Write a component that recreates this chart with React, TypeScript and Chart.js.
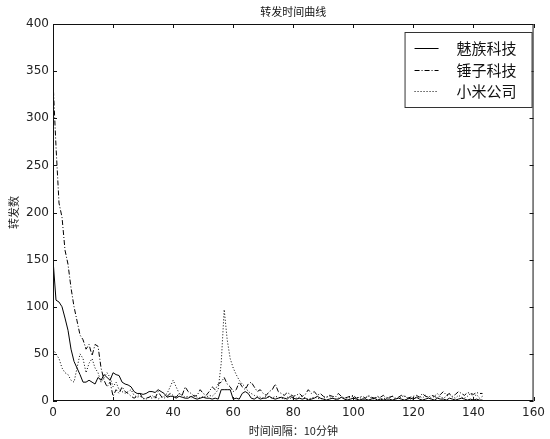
import React, { useEffect, useRef } from "react";
import { Chart, registerables } from "chart.js";

Chart.register(...registerables);

const chartTitle = "转发时间曲线";
const xAxisTitle = "时间间隔：10分钟";
const yAxisTitle = "转发数";
const seriesNames = ["魅族科技", "锤子科技", "小米公司"];
const xTicks = [0, 20, 40, 60, 80, 100, 120, 140, 160];
const yTicks = [0, 50, 100, 150, 200, 250, 300, 350, 400];

const meizu = [
  150, 107, 105, 100, 88, 75, 55, 42, 35, 28, 20, 20, 22, 20, 18, 25, 22, 28, 25, 22,
  30, 28, 27, 20, 18, 17, 15, 10, 8, 8, 7, 8, 10, 10, 9, 12, 10, 8, 4, 5,
  5, 3, 5, 4, 3, 3, 5, 3, 2, 3, 4, 3, 3, 2, 3, 2, 12, 12, 12, 12,
  2, 3, 2, 8, 10, 8, 3, 2, 4, 2, 3, 3, 5, 3, 2, 3, 4, 3, 2, 5,
  3, 2, 3, 2, 3, 1, 2, 3, 5, 3, 2, 1, 2, 3, 2, 2, 4, 2, 1, 2,
  3, 2, 1, 2, 2, 1, 2, 3, 1, 2, 1, 2, 2, 1, 2, 3, 2, 1, 2, 3,
  2, 4, 2, 1, 2, 3, 2, 1, 3, 2, 2, 1, 3, 2, 1, 2, 3, 2, 1, 2,
  1, 2, 1, 1,
];

const smartisan = [
  340, 270, 210, 195, 160, 145, 120, 100, 85, 70, 65, 55, 60, 48, 60, 58, 35, 22, 15, 20,
  5, 12, 8, 15, 10, 8, 5, 3, 5, 8, 2, 3, 4, 6, 3, 10, 5, 3, 5, 8,
  6, 4, 8, 6, 15, 10, 8, 5, 6, 12, 8, 6, 10, 15, 12, 18, 20, 25, 18, 15,
  10, 12, 20, 15, 12, 18, 20, 15, 10, 12, 8, 6, 10, 12, 18, 10, 8, 6, 9, 7,
  5, 6, 8, 5, 7, 12, 8, 10, 6, 8, 5, 4, 6, 5, 4, 8, 5, 3, 4, 5,
  6, 3, 4, 5, 3, 6, 4, 3, 5, 4, 6, 3, 4, 5, 3, 4, 6, 5, 3, 4,
  5, 6, 4, 8, 5, 4, 6, 5, 3, 7, 10, 6, 8, 5, 7, 10, 8, 6, 9, 8,
  7, 9, 8, 8,
];

const xiaomi = [
  55, 50, 45, 35, 30, 28, 22, 20, 35, 50, 45, 30, 40, 45, 35, 30, 20, 25, 30, 25,
  15, 20, 12, 10, 8, 10, 12, 6, 4, 5, 3, 2, 4, 3, 5, 2, 4, 5, 8, 15,
  22, 15, 8, 6, 4, 5, 3, 6, 4, 3, 5, 4, 6, 5, 8, 12, 40, 97, 65, 45,
  35, 28, 22, 18, 15, 10, 8, 6, 5, 4, 3, 5, 4, 3, 5, 4, 3, 2, 4, 3,
  2, 3, 4, 5, 3, 2, 3, 4, 3, 2, 3, 4, 5, 3, 2, 3, 4, 3, 2, 4,
  5, 3, 4, 2, 3, 5, 3, 2, 4, 3, 2, 4, 3, 5, 2, 3, 4, 6, 3, 2,
  4, 3, 5, 3, 6, 4, 3, 5, 8, 4, 3, 5, 7, 4, 3, 6, 4, 3, 5, 8,
  4, 7, 3, 5,
];

const seriesValues = [meizu, smartisan, xiaomi];
const seriesDashes = [[], [5, 2, 1, 2], [1, 2]];

const CJK = '"Noto Sans CJK SC", "DejaVu Sans", sans-serif';

const framePlugin = {
  id: "mplFrame",
  afterDraw(chart: any) {
    const { ctx, chartArea, scales } = chart;
    const { left, right, top, bottom } = chartArea;
    const xs = scales.x;
    const ys = scales.y;
    ctx.save();
    // frame
    ctx.strokeStyle = "#111";
    ctx.lineWidth = 1;
    ctx.setLineDash([]);
    ctx.strokeRect(left + 0.5, top + 0.5, right - left - 1, bottom - top - 1);
    // inward ticks
    ctx.beginPath();
    xs.ticks.forEach((t: any) => {
      const px = Math.round(xs.getPixelForValue(t.value)) + 0.5;
      ctx.moveTo(px, bottom);
      ctx.lineTo(px, bottom - 4);
      ctx.moveTo(px, top);
      ctx.lineTo(px, top + 4);
    });
    ys.ticks.forEach((t: any) => {
      const py = Math.round(ys.getPixelForValue(t.value)) + 0.5;
      ctx.moveTo(left, py);
      ctx.lineTo(left + 4, py);
      ctx.moveTo(right, py);
      ctx.lineTo(right - 4, py);
    });
    ctx.stroke();
    // title
    ctx.fillStyle = "#111";
    ctx.font = `11px ${CJK}`;
    ctx.textAlign = "center";
    ctx.textBaseline = "middle";
    ctx.fillText(chartTitle, (left + right) / 2, 12);
    // legend
    const boxW = 127;
    const boxH = 75;
    const boxRight = right - 2;
    const boxLeft = boxRight - boxW;
    const boxTop = top + 8;
    ctx.fillStyle = "#fff";
    ctx.fillRect(boxLeft, boxTop, boxW, boxH);
    ctx.strokeStyle = "#333";
    ctx.strokeRect(boxLeft + 0.5, boxTop + 0.5, boxW, boxH);
    chart.data.datasets.forEach((ds: any, i: number) => {
      const yy = Math.round(boxTop + 16 + i * 21.5) + 0.5;
      ctx.strokeStyle = ds.borderColor;
      ctx.lineWidth = 1;
      ctx.setLineDash(ds.borderDash || []);
      ctx.beginPath();
      ctx.moveTo(boxLeft + 10, yy);
      ctx.lineTo(boxLeft + 34, yy);
      ctx.stroke();
      ctx.setLineDash([]);
      ctx.fillStyle = "#111";
      ctx.font = `15px ${CJK}`;
      ctx.textAlign = "left";
      ctx.textBaseline = "middle";
      ctx.fillText(ds.label, boxLeft + 52, yy);
    });
    ctx.restore();
  },
};

export default function App() {
  const canvasRef = useRef<HTMLCanvasElement | null>(null);

  useEffect(() => {
    if (!canvasRef.current) return;
    const datasets = seriesNames.map((name, si) => ({
      label: name,
      data: seriesValues[si].map((v, i) => ({ x: i, y: v })),
      borderColor: "#000",
      backgroundColor: "#000",
      borderWidth: 1,
      borderDash: seriesDashes[si],
      pointRadius: 0,
      tension: 0,
      fill: false,
    }));
    const chart = new Chart(canvasRef.current, {
      type: "line",
      data: { datasets },
      plugins: [framePlugin],
      options: {
        animation: false,
        responsive: true,
        maintainAspectRatio: false,
        layout: { padding: { top: 24, right: 12, left: 0, bottom: 0 } },
        plugins: {
          legend: { display: false },
          title: { display: false },
          tooltip: { enabled: false },
        },
        scales: {
          x: {
            type: "linear",
            min: xTicks[0],
            max: xTicks[xTicks.length - 1],
            afterBuildTicks: (scale: any) => {
              scale.ticks = xTicks.map((v) => ({ value: v }));
            },
            afterFit: (scale: any) => {
              scale.height = 38;
            },
            grid: { display: false, drawTicks: false },
            border: { display: false },
            ticks: {
              padding: 5,
              maxRotation: 0,
              autoSkip: false,
              color: "#222",
              font: { family: "DejaVu Sans", size: 12 },
            },
            title: {
              display: true,
              text: xAxisTitle,
              color: "#222",
              font: { family: CJK, size: 11 },
              padding: { top: 0, bottom: 2 },
            },
          },
          y: {
            type: "linear",
            min: yTicks[0],
            max: yTicks[yTicks.length - 1],
            afterBuildTicks: (scale: any) => {
              scale.ticks = yTicks.map((v) => ({ value: v }));
            },
            afterFit: (scale: any) => {
              scale.width = 53;
            },
            grid: { display: false, drawTicks: false },
            border: { display: false },
            ticks: {
              padding: 4,
              autoSkip: false,
              color: "#222",
              font: { family: "DejaVu Sans", size: 12 },
            },
            title: {
              display: true,
              text: yAxisTitle,
              color: "#222",
              font: { family: CJK, size: 11 },
              padding: { top: 7, bottom: 0 },
            },
          },
        },
      },
    });
    return () => chart.destroy();
  }, []);

  return (
    <div style={{ position: "fixed", left: 0, top: 0, width: 550, height: 439, background: "#fff" }}>
      <canvas ref={canvasRef} />
    </div>
  );
}
